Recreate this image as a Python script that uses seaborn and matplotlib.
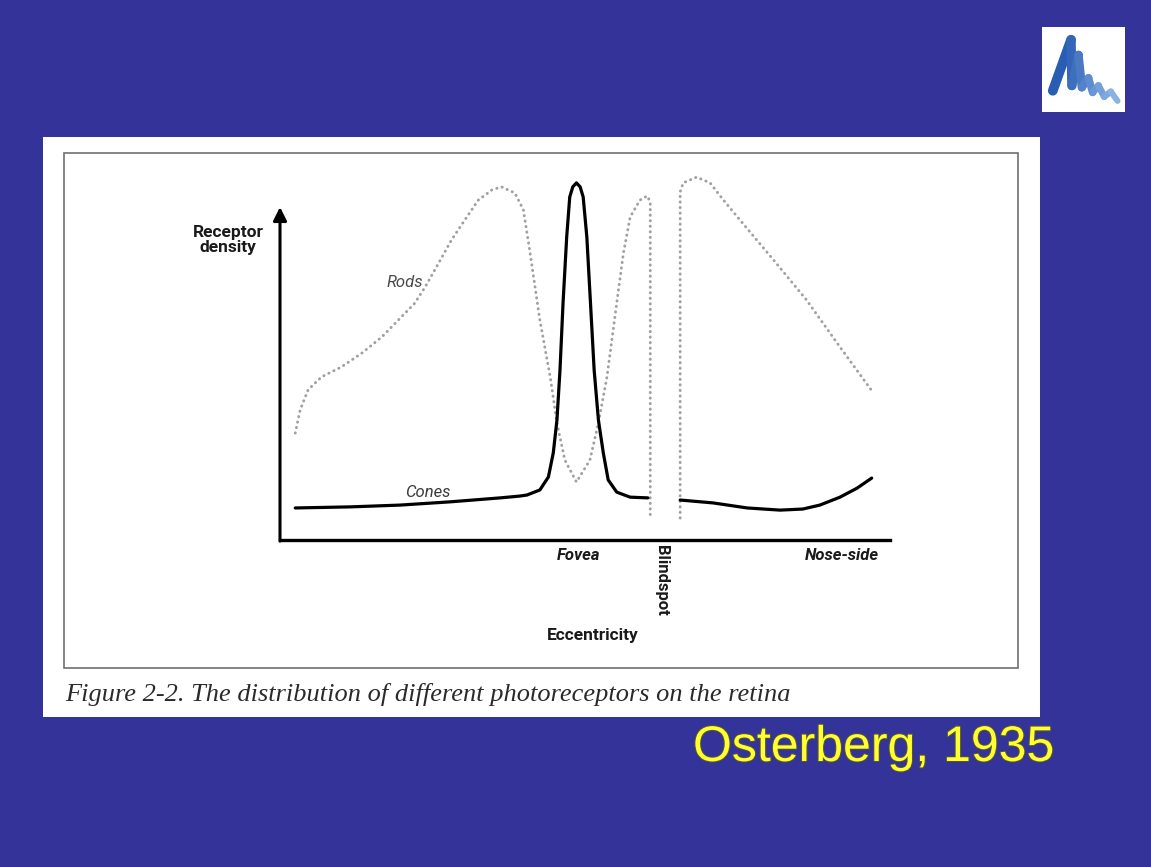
import matplotlib
matplotlib.use("Agg")
import pandas as pd
import matplotlib.pyplot as plt
import matplotlib.patheffects as pe
from matplotlib.patches import Rectangle
import seaborn as sns

# Datos (excentricidad 0-100, densidad relativa 0-100)
cones_x = [2.5, 11.5, 19.7, 27.9, 36.1, 39.3, 40.5, 42.6, 44.0, 44.8, 45.4, 45.9, 46.4, 47.0,
           47.5, 48.0, 48.6, 49.2, 49.7, 50.3, 50.9, 51.5, 52.2, 53.0, 53.8, 55.2, 57.4, 60.3]
cones_y = [8.9, 9.2, 9.7, 10.6, 11.7, 12.2, 12.5, 13.9, 17.5, 24.2, 33.3, 47.2, 65.8, 84.2,
           95.3, 98.1, 99.2, 98.1, 95.3, 84.2, 65.8, 47.2, 33.3, 24.2, 16.7, 13.3, 11.9, 11.7]
cones_nasal_x = [65.6, 71.0, 76.6, 82.0, 85.7, 88.5, 91.8, 94.6, 97.0]
cones_nasal_y = [11.1, 10.3, 8.9, 8.3, 8.6, 9.7, 11.9, 14.4, 17.2]

rods_x = [2.5, 3.3, 4.6, 6.8, 10.1, 13.4, 16.7, 19.4, 22.1, 23.8, 26.0, 28.1, 30.3, 32.5, 34.7,
          36.3, 38.5, 39.9, 41.0, 42.6, 44.3, 45.4, 46.7, 48.6, 50.8, 52.2, 53.6, 55.2, 56.3,
          57.4, 59.0, 60.2, 60.7, 60.7]
rods_y = [29.7, 36.1, 41.7, 45.3, 48.1, 51.9, 56.4, 61.1, 65.8, 70.3, 76.9, 83.3, 88.9, 94.4,
          97.2, 98.1, 96.4, 91.7, 79.7, 61.1, 45.3, 32.5, 22.2, 16.1, 22.2, 32.5, 45.3, 65.8,
          79.7, 89.7, 94.4, 95.6, 93.9, 6.1]
rods_nasal_x = [65.6, 65.6, 66.1, 68.3, 70.5, 72.7, 75.4, 80.9, 86.3, 91.8, 97.3]
rods_nasal_y = [6.1, 96.7, 99.2, 100.8, 99.2, 94.4, 88.9, 77.8, 66.7, 53.6, 40.8]

labels_x = ["Fovea", "Blindspot", "Nose-side"]

cones = pd.DataFrame({
    "ecc": cones_x + cones_nasal_x,
    "dens": cones_y + cones_nasal_y,
    "seg": ["t"] * len(cones_x) + ["n"] * len(cones_nasal_x),
})
rods = pd.DataFrame({
    "ecc": rods_x + rods_nasal_x,
    "dens": rods_y + rods_nasal_y,
    "seg": ["t"] * len(rods_x) + ["n"] * len(rods_nasal_x),
})

sns.set_style("white")
plt.rcParams["font.family"] = ["Roboto", "DejaVu Sans"]

W, H = 1151, 867
def fx(px):
    return px / W
def fy(py):
    return 1 - py / H

fig = plt.figure(figsize=(W / 100, H / 100), dpi=100, facecolor="#333399")

# Panel blanco y marco
fig.patches.append(Rectangle((fx(43), fy(717)), (1040 - 43) / W, (717 - 137) / H,
                             transform=fig.transFigure, facecolor="white",
                             edgecolor="none", zorder=-2))
fig.patches.append(Rectangle((fx(64), fy(668)), (1018 - 64) / W, (668 - 153) / H,
                             transform=fig.transFigure, facecolor="none",
                             edgecolor="#707070", lw=1.2, zorder=-1))

ax = fig.add_axes([fx(280), fy(540), 610 / W, 360 / H])
ax.set_zorder(2)
ax.patch.set_visible(False)

sns.lineplot(data=rods, x="ecc", y="dens", units="seg", estimator=None, sort=False,
             color="#a0a0a0", lw=2.1, ax=ax, clip_on=False,
             linestyle=(0, (0.1, 1.8)), dash_capstyle="round")
sns.lineplot(data=cones, x="ecc", y="dens", units="seg", estimator=None, sort=False,
             color="black", lw=2.3, ax=ax, clip_on=False)

ax.set_xlim(0, 100)
ax.set_ylim(0, 100)
ax.set_xticks([])
ax.set_yticks([])
ax.set_xlabel("")
ax.set_ylabel("")
for s in ["top", "right", "left"]:
    ax.spines[s].set_visible(False)
ax.spines["bottom"].set_linewidth(2.4)
ax.spines["bottom"].set_color("black")

# Eje y con flecha
ax.annotate("", xy=(0, 92.5), xytext=(0, -0.3),
            arrowprops=dict(arrowstyle="-|>", lw=2.2, color="black", mutation_scale=20,
                            shrinkA=0, shrinkB=0))

ax.text(-8.5, 83.3, "Receptor\ndensity", ha="center", va="center", fontsize=12.5,
        fontweight="bold", linespacing=0.95, color="#1a1a1a")
ax.text(20.5, 71.4, "Rods", ha="center", va="center", fontsize=12, style="italic",
        color="#4a4a4a")
ax.text(24.3, 13.3, "Cones", ha="center", va="center", fontsize=12, style="italic",
        color="#3a3a3a")
ax.text(48.9, -4.4, labels_x[0], ha="center", va="center", fontsize=12, style="italic",
        fontweight="bold", color="#1a1a1a")
ax.text(62.6, -1.4, labels_x[1], ha="center", va="top", fontsize=12, rotation=-90,
        fontweight="bold", color="#1a1a1a")
ax.text(92.1, -4.4, labels_x[2], ha="center", va="center", fontsize=12, style="italic",
        fontweight="bold", color="#1a1a1a")
ax.text(51.3, -26.4, "Eccentricity", ha="center", va="center", fontsize=12.5,
        fontweight="bold", color="#1a1a1a")

fig.text(fx(65), fy(695), "Figure 2-2. The distribution of different photoreceptors on the retina",
         ha="left", va="center", fontsize=19, style="italic",
         family=["Liberation Serif", "DejaVu Serif"], color="#2a2a2a")

fig.text(fx(693), fy(748), "Osterberg, 1935", ha="left", va="center", fontsize=36,
         family=["Liberation Sans", "DejaVu Sans"], color="#ffff33",
         path_effects=[pe.withStroke(linewidth=1.5, foreground="#555533")])

# Logo
logo_x = [0.13, 0.35, 0.36, 0.44, 0.48, 0.56, 0.61, 0.68, 0.75, 0.83, 0.91]
logo_y = [0.25, 0.85, 0.31, 0.67, 0.29, 0.40, 0.23, 0.31, 0.18, 0.24, 0.13]
lax = fig.add_axes([fx(1042), fy(112), (1125 - 1042) / W, (112 - 27) / H])
lax.set_facecolor("white")
lax.set_xlim(0, 1)
lax.set_ylim(0, 1)
lax.set_xticks([])
lax.set_yticks([])
for s in lax.spines.values():
    s.set_visible(False)
n = len(logo_x) - 1
for i in range(n):
    t = i / n
    col = (0.16 + 0.42 * t, 0.36 + 0.38 * t, 0.70 + 0.22 * t)
    lax.plot(logo_x[i:i + 2], logo_y[i:i + 2], color=col, lw=7 - 3 * t,
             solid_capstyle="round")

plt.savefig("out.png", dpi=100, facecolor=fig.get_facecolor())
